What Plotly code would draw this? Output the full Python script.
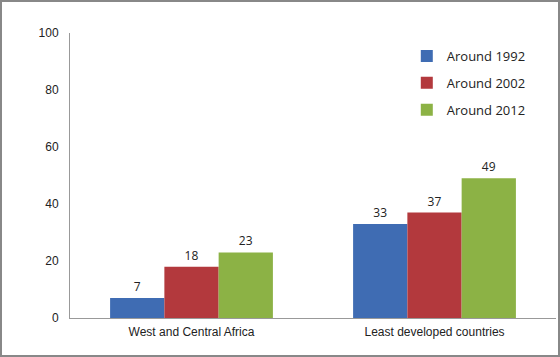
import plotly.graph_objects as go

categories = ["West and Central Africa", "Least developed countries"]
series_names = ["Around 1992", "Around 2002", "Around 2012"]
values_1992 = [7, 33]
values_2002 = [18, 37]
values_2012 = [23, 49]
colors = ["#3F6CB3", "#B3393D", "#8CB245"]
y_ticks = [0, 20, 40, 60, 80, 100]

fig = go.Figure()
for i, (name, vals, c) in enumerate(zip(series_names, [values_1992, values_2002, values_2012], colors)):
    fig.add_trace(go.Bar(
        x=categories, y=vals, name=name, marker_color=c, marker_line_width=0,
        legendgroup=f"g{i}",
        text=[str(v) for v in vals], textposition="outside", cliponaxis=False,
        textfont=dict(family="Open Sans, Liberation Sans", size=12, color="#222"),
    ))

W, H = 560, 357
ml, mr, mt, mb = 70, 4, 33, 39
pw, ph = W - ml - mr, H - mt - mb

fig.update_layout(
    width=W, height=H, margin=dict(l=ml, r=mr, t=mt, b=mb),
    paper_bgcolor="white", plot_bgcolor="white",
    barmode="group", bargap=0.33, bargroupgap=0,
    font=dict(family="Liberation Sans, Arial", size=12, color="#222"),
    showlegend=True,
    legend=dict(x=0.693, y=0.972, xanchor="left", yanchor="top",
                font=dict(family="Open Sans, Liberation Sans", size=13, color="#222"),
                tracegroupgap=7, itemwidth=30, bgcolor="rgba(0,0,0,0)"),
    xaxis=dict(showline=True, linecolor="#999", linewidth=1, ticks="", showgrid=False,
               ticklabelstandoff=3),
    yaxis=dict(range=[0, 100], tickvals=y_ticks, showline=True, linecolor="#999",
               linewidth=1, showgrid=False, zeroline=False, ticks="", ticklen=0,
               ticklabelstandoff=8),
    shapes=[dict(type="rect", xref="paper", yref="paper",
                 x0=(-ml + 1) / pw, x1=(pw + mr - 1) / pw,
                 y0=(-mb + 1) / ph, y1=(ph + mt - 1) / ph,
                 line=dict(color="#888", width=2))],
)
fig.write_html("out.html", config={"displayModeBar": False},
               post_script="document.body.style.margin='0';")
